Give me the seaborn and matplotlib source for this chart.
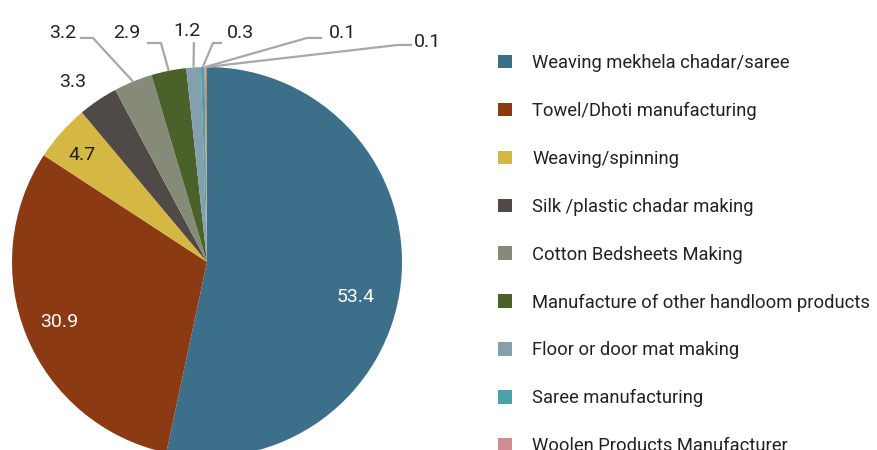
import matplotlib
matplotlib.use("Agg")
import matplotlib.pyplot as plt
import seaborn as sns
import numpy as np

# --- data ---
categories = ["Weaving mekhela chadar/saree", "Towel/Dhoti manufacturing", "Weaving/spinning",
              "Silk /plastic chadar making", "Cotton Bedsheets Making",
              "Manufacture of other handloom products", "Floor or door mat making",
              "Saree manufacturing", "Woolen Products Manufacturer", "Other"]
shares = [53.4, 30.9, 4.7, 3.3, 3.2, 2.9, 1.2, 0.3, 0.1, 0.1]
colors = ["#3B6F8A", "#8B3A13", "#D5B843", "#4F4A45", "#858B77",
          "#4A6229", "#849FAE", "#4AA3AC", "#D08C90", "#C98A4E"]

sns.set_theme(style="white")
plt.rcParams['font.family'] = ['Roboto', 'DejaVu Sans']

fig = plt.figure(figsize=(8.78, 4.5), dpi=100)
# pie axes: centre (207, 262) px, radius 195 px, bottom part cut off by the figure
ax = fig.add_axes([12 / 878, -7 / 450, 390 / 878, 390 / 450])
wedges, _ = ax.pie(shares, colors=colors, startangle=90, counterclock=False,
                   wedgeprops=dict(linewidth=0))
ax.set_xlim(-1, 1)
ax.set_ylim(-1, 1)
ax.set_aspect('equal')
ax.axis('off')

fs = 14
# labels inside the slices
inner = {0: ((0.76, -0.18), "white"), 1: ((-0.76, -0.31), "white"), 2: ((-0.64, 0.55), "#222222")}
for i, (xy, c) in inner.items():
    ax.text(xy[0], xy[1], f"{shares[i]:.1f}", ha="center", va="center", fontsize=fs, color=c)

# 3.3 sits outside without leader
ax.text(-0.687, 0.923, f"{shares[3]:.1f}", ha="center", va="center", fontsize=fs, color="#222222")

# outer labels with leader lines: text pos, elbow start, elbow end (data units)
outer = {
    4: ((-0.738, 1.174), (-0.651, 1.149), (-0.585, 1.149)),
    5: ((-0.410, 1.174), (-0.308, 1.123), (-0.236, 1.123)),
    6: ((-0.103, 1.185), (-0.067, 1.128), (-0.067, 1.128)),
    7: ((0.169, 1.174), (0.077, 1.123), (0.031, 1.123)),
    8: ((0.697, 1.174), (0.590, 1.149), (0.513, 1.149)),
    9: ((1.133, 1.128), (1.051, 1.113), (0.979, 1.113)),
}
for i, (txy, e1, e2) in outer.items():
    w = wedges[i]
    mid = np.deg2rad((w.theta1 + w.theta2) / 2)
    ex, ey = np.cos(mid), np.sin(mid)
    ax.plot([e1[0], e2[0], ex], [e1[1], e2[1], ey], color="#A8A8A8", lw=1.6,
            clip_on=False, solid_capstyle="butt")
    ax.text(txy[0], txy[1], f"{shares[i]:.1f}", ha="center", va="center",
            fontsize=fs, color="#222222")

leg_fs = 13.2
leg = fig.legend(wedges, categories, loc="upper left", bbox_to_anchor=(498 / 878, 396 / 450),
                 frameon=False, fontsize=leg_fs, handlelength=0.76, handleheight=0.76,
                 handletextpad=1.12, labelspacing=1.63, borderpad=0, borderaxespad=0)
for t in leg.get_texts():
    t.set_color("#222222")

fig.savefig("out.png", dpi=100)
